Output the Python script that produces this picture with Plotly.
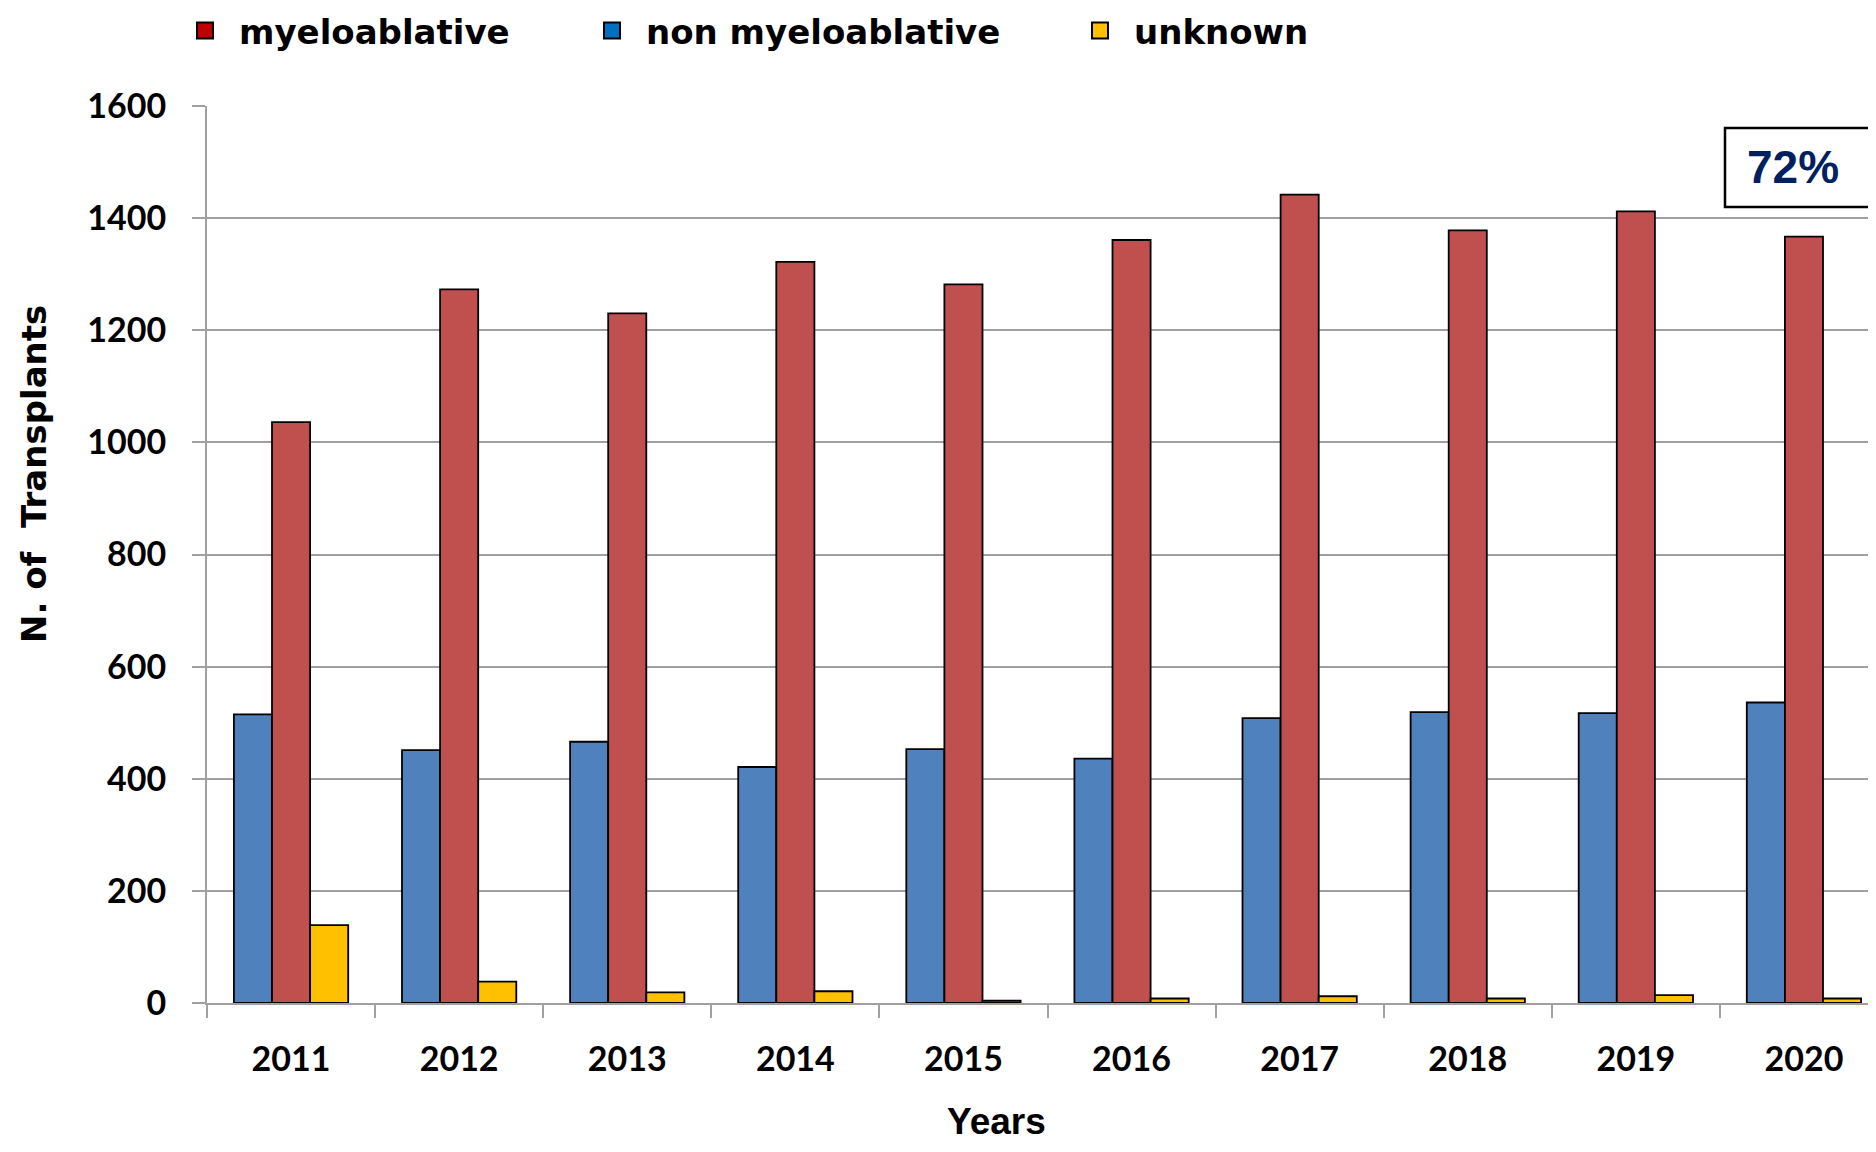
import plotly.graph_objects as go

years = ["2011", "2012", "2013", "2014", "2015", "2016", "2017", "2018", "2019", "2020"]
non_myeloablative = [515, 451, 466, 421, 453, 436, 508, 519, 517, 536]
myeloablative = [1036, 1273, 1230, 1322, 1282, 1361, 1442, 1378, 1412, 1367]
unknown = [139, 38, 19, 21, 4, 8, 12, 8, 14, 8]
y_ticks = [0, 200, 400, 600, 800, 1000, 1200, 1400, 1600]

OFF = 8  # page body margin
W, H = 1876 - 2 * OFF, 1152 - 2 * OFF  # figure fits inside the page body
# plot area in page pixels: left 207, top 106, bottom 1003, right = figure edge
L = 207 - OFF
T = 106 - OFF
R = 0
B = H - (1003 - OFF)
PW = W - L - R
PH = H - T - B
CAT_W = 168.1  # pixel width of one category in the original
x_max = -0.5 + PW / CAT_W


def px(xp):
    return (xp - OFF - L) / PW


def py(yp):
    return 1 - (yp - OFF - T) / PH


bar_line = dict(color="black", width=1.8)
fig = go.Figure()
fig.add_trace(go.Bar(x=years, y=non_myeloablative, marker=dict(color="#4F81BD", line=bar_line), showlegend=False))
fig.add_trace(go.Bar(x=years, y=myeloablative, marker=dict(color="#C0504D", line=bar_line), showlegend=False))
fig.add_trace(go.Bar(x=years, y=unknown, marker=dict(color="#FFC000", line=bar_line), showlegend=False))

# legend entries
leg_specs = [("myeloablative", "#C00000", "legend", 171),
             ("non myeloablative", "#0070C0", "legend2", 578),
             ("unknown", "#FFC000", "legend3", 1066)]
legend_font = dict(family="DejaVu Sans", size=34, color="black", weight="bold")
for name, col, lg, _ in leg_specs:
    fig.add_trace(go.Scatter(x=[None], y=[None], mode="markers", name=name, legend=lg,
                             marker=dict(symbol="square", size=16, color=col,
                                         line=dict(color="black", width=2))))

layout_legends = {}
for name, col, lg, lx in leg_specs:
    layout_legends[lg] = dict(xref="container", yref="container", x=(lx - OFF) / W, y=1 - (31 - OFF) / H,
                              xanchor="left", yanchor="middle", orientation="h",
                              itemwidth=58, font=legend_font, bgcolor="rgba(0,0,0,0)",
                              borderwidth=0, itemsizing="trace")

grid_col = "#A0A0A0"
fig.update_layout(
    width=W, height=H,
    margin=dict(l=L, r=R, t=T, b=B, pad=0),
    paper_bgcolor="white", plot_bgcolor="white",
    barmode="group", bargap=0.32, bargroupgap=0,
    **layout_legends,
    xaxis=dict(type="category", range=[-0.5, x_max], tickson="boundaries",
               ticks="outside", ticklen=13, tickwidth=2, tickcolor=grid_col,
               showline=True, linecolor=grid_col, linewidth=2, showgrid=False,
               tickfont=dict(family="Lato", size=34, color="black", weight="bold"),
               ticklabelstandoff=25),
    yaxis=dict(range=[0, 1600], tickvals=y_ticks, ticks="outside", ticklen=13, tickwidth=2,
               tickcolor=grid_col, showline=True, linecolor=grid_col, linewidth=2,
               showgrid=True, gridcolor=grid_col, gridwidth=2, zeroline=False,
               tickfont=dict(family="Lato", size=34, color="black", weight="bold"),
               ticklabelstandoff=19),
)

# axis titles placed like the original
fig.add_annotation(xref="paper", yref="paper", x=px(996), y=py(1121),
                   text="Years", showarrow=False, xanchor="center", yanchor="middle",
                   font=dict(family="Liberation Sans", size=37, color="black", weight="bold"))
fig.add_annotation(xref="paper", yref="paper", x=px(34), y=py(474),
                   text="N. of\u00a0 Transplants", showarrow=False, textangle=-90,
                   xanchor="center", yanchor="middle",
                   font=dict(family="DejaVu Sans", size=34, color="black", weight="bold"))

# 72% box, cut off by the right edge (no right border)
bx0, bx1, by0, by1 = px(1725), 1.0, py(207), py(128)
fig.add_shape(type="rect", xref="paper", yref="paper", x0=bx0, x1=bx1, y0=by0, y1=by1,
              line=dict(width=0), fillcolor="white", layer="above")
fig.add_shape(type="path", xref="paper", yref="paper",
              path=f"M {bx1 + 0.01},{by0} L {bx0},{by0} L {bx0},{by1} L {bx1 + 0.01},{by1}",
              line=dict(color="black", width=2.5), layer="above")
fig.add_annotation(xref="paper", yref="paper", x=px(1793), y=py(167),
                   text="72%", showarrow=False, xanchor="center", yanchor="middle",
                   font=dict(family="Liberation Sans", size=46, color="#002060", weight="bold"))

fig.write_html("out.html")
